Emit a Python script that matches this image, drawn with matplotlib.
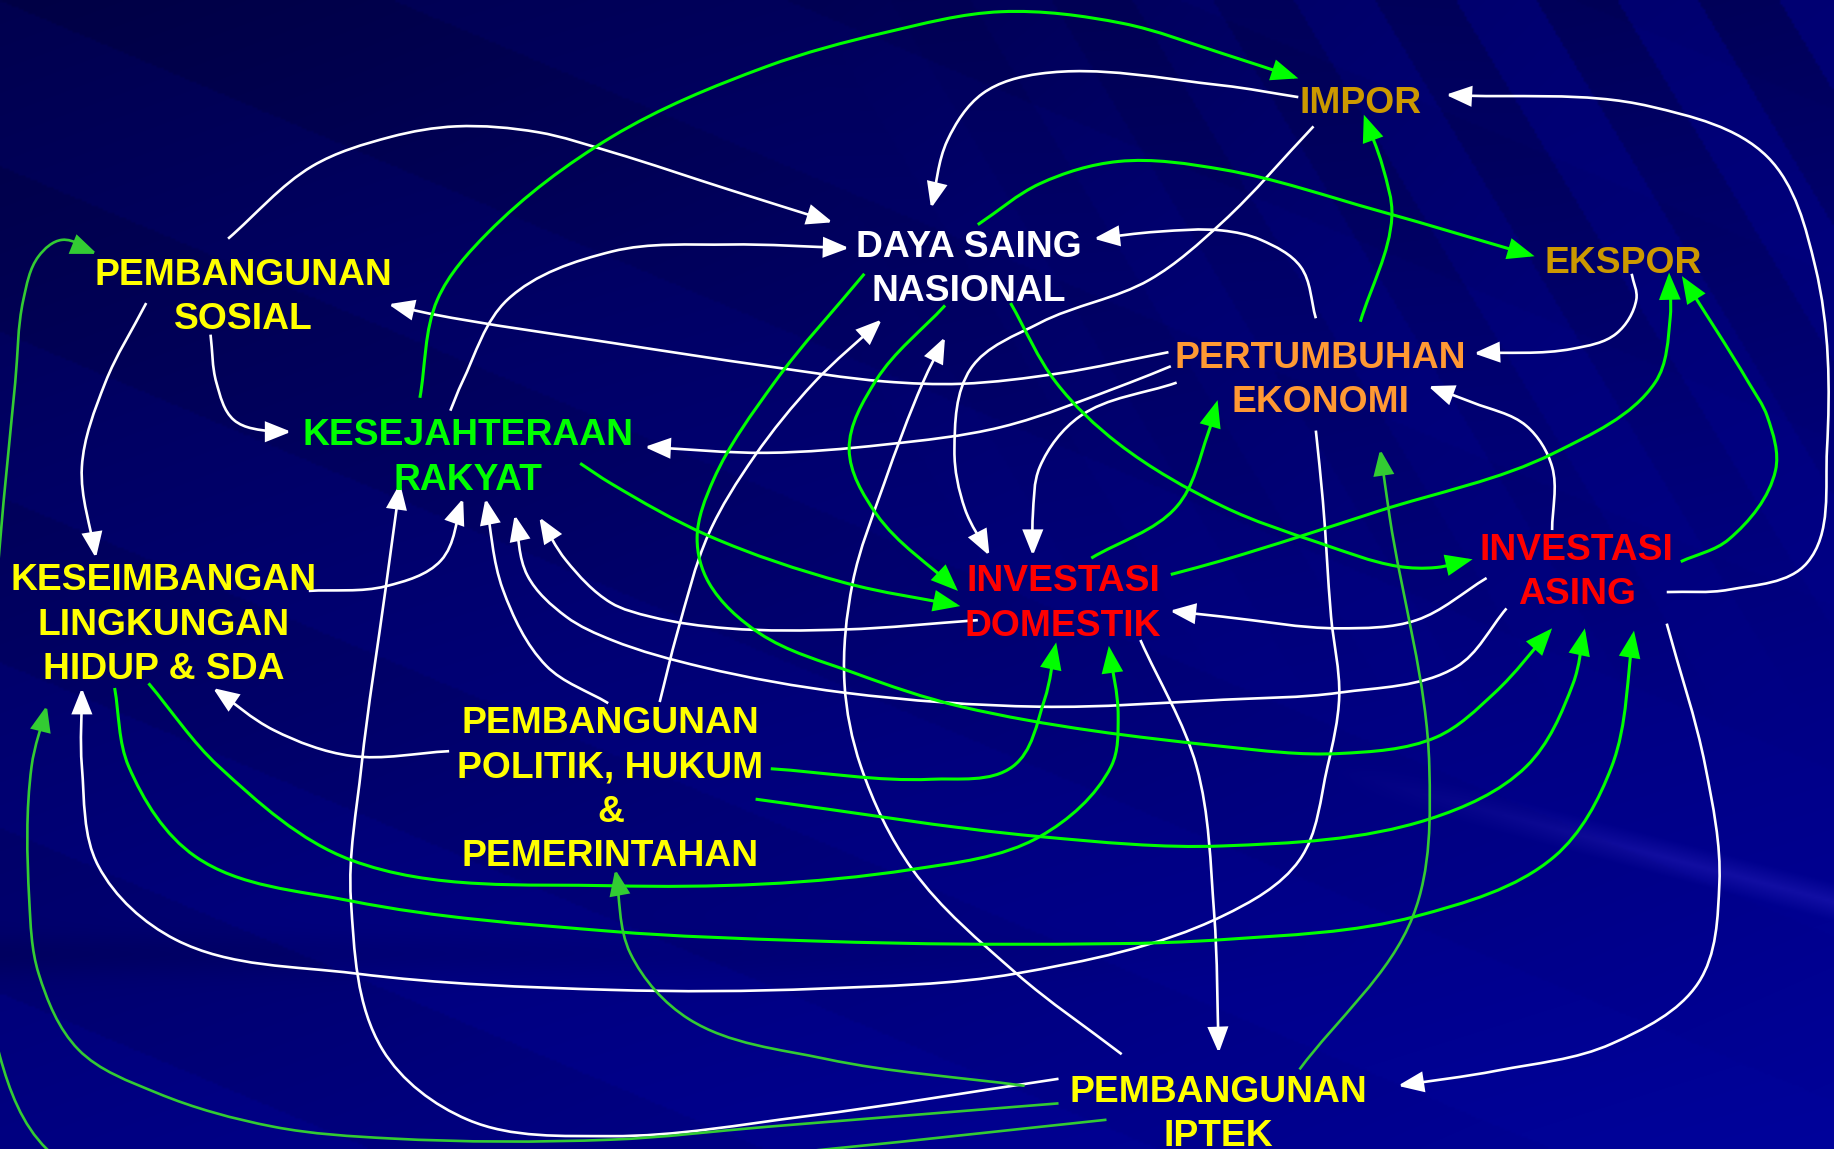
import numpy as np
import matplotlib
matplotlib.use("Agg")
import matplotlib.pyplot as plt
from matplotlib.path import Path
from matplotlib.patches import FancyArrowPatch, ArrowStyle

# ---------------- data ----------------
W, H = 1568, 982  # drawing coordinate space

node_lines = [
    ["IMPOR"],
    ["EKSPOR"],
    ["DAYA SAING", "NASIONAL"],
    ["PEMBANGUNAN", "SOSIAL"],
    ["KESEJAHTERAAN", "RAKYAT"],
    ["PERTUMBUHAN", "EKONOMI"],
    ["INVESTASI", "DOMESTIK"],
    ["INVESTASI", "ASING"],
    ["KESEIMBANGAN", "LINGKUNGAN", "HIDUP & SDA"],
    ["PEMBANGUNAN", "POLITIK, HUKUM", "&", "PEMERINTAHAN"],
    ["PEMBANGUNAN", "IPTEK"],
]
node_x = [1163, 1388, 828, 208, 400, 1129, 909, 1348, 140, 522, 1042]
node_y = [85, 222, 208, 232, 369, 303, 494, 467, 493, 615, 930]
node_colors = ["#CC9900", "#CC9900", "#FFFFFF", "#FFFF00", "#00FF00", "#FF9933",
               "#FF0000", "#FF0000", "#FFFF00", "#FFFF00", "#FFFF00"]
line_gap = 38

white_edges = [
    [(195, 204), (267, 142), (334, 117), (390, 108), (460, 113), (523, 130), (623, 162), (712, 190)],
    [(180, 286), (185, 327), (200, 359), (234, 369), (249, 369)],
    [(125, 259), (90, 327), (70, 399), (82, 477)],
    [(385, 351), (395, 327), (434, 256), (523, 215), (623, 209), (726, 212)],
    [(1110, 83), (1045, 73), (889, 63), (840, 80), (810, 120), (796, 178)],
    [(1125, 272), (1112, 228), (1078, 205), (1045, 197), (990, 198), (935, 204)],
    [(999, 301), (906, 319), (822, 328), (756, 326), (656, 313), (523, 293), (367, 268), (332, 260)],
    [(1001, 313), (966, 327), (856, 365), (756, 380), (656, 387), (551, 382)],
    [(1006, 327), (923, 356), (889, 399), (883, 441), (883, 475)],
    [(1123, 108), (1045, 190), (983, 239), (889, 276), (830, 315), (816, 385), (825, 435), (846, 475)],
    [(836, 530), (722, 538), (622, 537), (556, 527), (522, 515), (484, 479), (461, 442)],
    [(1288, 520), (1245, 570), (1145, 592), (1046, 598), (889, 604), (722, 592), (600, 570),
     (523, 547), (484, 527), (451, 492), (440, 440)],
    [(1271, 494), (1211, 530), (1145, 537), (1045, 527), (1000, 522)],
    [(1327, 453), (1327, 399), (1305, 364), (1259, 344), (1221, 330)],
    [(1425, 506), (1478, 504), (1545, 481), (1562, 384), (1552, 228), (1511, 134), (1411, 91), (1236, 81)],
    [(1425, 533), (1458, 655), (1470, 755), (1452, 840), (1378, 892), (1280, 915), (1195, 928)],
    [(975, 547), (1023, 655), (1038, 780), (1042, 900)],
    [(1395, 234), (1399, 256), (1382, 285), (1345, 298), (1260, 302)],
    [(564, 600), (579, 541), (606, 456), (645, 390), (696, 327), (754, 273)],
    [(959, 901), (869, 832), (780, 743), (736, 655), (722, 584), (729, 498), (756, 413), (789, 327), (808, 288)],
    [(520, 601), (467, 569), (430, 504), (415, 426)],
    [(264, 505), (330, 501), (377, 479), (396, 426)],
    [(905, 922), (689, 954), (522, 971), (400, 957), (327, 897), (300, 769), (309, 655), (330, 501), (342, 413)],
    [(1125, 368), (1131, 428), (1138, 527), (1145, 595), (1135, 655), (1111, 735), (1045, 783), (869, 832),
     (700, 845), (522, 846), (304, 832), (150, 803), (84, 740), (70, 655), (70, 588)],
    [(384, 642), (300, 646), (234, 624), (182, 588)],
]

green_edges = [
    [(359, 340), (374, 256), (417, 199), (523, 117), (655, 57), (756, 28), (856, 10), (960, 20), (1046, 46), (1110, 67)],
    [(836, 192), (889, 157), (956, 138), (1046, 145), (1178, 180), (1312, 219)],
    [(1163, 275), (1190, 185), (1182, 142), (1166, 98)],
    [(864, 259), (903, 327), (956, 379), (1046, 433), (1128, 464), (1195, 484), (1228, 485), (1259, 478)],
    [(739, 234), (662, 327), (610, 410), (596, 460), (606, 498), (649, 541), (730, 575), (822, 604),
     (1046, 638), (1145, 644), (1228, 630), (1278, 592), (1327, 537)],
    [(808, 261), (749, 325), (726, 384), (749, 439), (819, 505)],
    [(496, 396), (522, 413), (606, 458), (722, 498), (821, 518)],
    [(933, 477), (1006, 433), (1033, 370), (1041, 342)],
    [(1001, 491), (1045, 479), (1178, 437), (1329, 387), (1415, 327), (1428, 271), (1427, 233)],
    [(1437, 480), (1478, 461), (1518, 402), (1511, 356), (1495, 327), (1438, 236)],
    [(659, 657), (796, 666), (866, 655), (893, 598), (903, 549)],
    [(127, 584), (187, 655), (300, 735), (523, 757), (780, 743), (889, 715), (950, 655), (956, 612), (948, 552)],
    [(98, 588), (110, 655), (167, 732), (300, 770), (523, 796), (689, 804), (856, 807), (1046, 803),
     (1211, 783), (1329, 732), (1378, 655), (1397, 539)],
    [(646, 683), (889, 715), (1045, 723), (1222, 700), (1305, 655), (1345, 584), (1355, 537)],
]

dark_green_edges = [
    [(1111, 914), (1208, 783), (1222, 655), (1188, 441), (1180, 384)],
    [(876, 928), (706, 905), (589, 871), (539, 815), (526, 743)],
    [(905, 943), (656, 963), (523, 974), (334, 973), (234, 963), (134, 934), (67, 897), (33, 832),
     (25, 769), (27, 655), (40, 603)],
    [(946, 957), (709, 982), (400, 1010), (100, 1010), (40, 982), (0, 903), (-15, 680), (0, 464),
     (13, 327), (20, 256), (33, 219), (53, 205), (83, 217)],
]

# ---------------- helpers ----------------
def smooth_path(pts):
    P = np.asarray(pts, float)
    n = len(P)
    seg = np.diff(P, axis=0)
    L = np.hypot(seg[:, 0], seg[:, 1])
    U = seg / L[:, None]
    T = np.zeros_like(P)
    T[0] = U[0]
    T[-1] = U[-1]
    for i in range(1, n - 1):
        t = U[i - 1] + U[i]
        T[i] = t / np.hypot(*t)
    verts = [P[0]]
    codes = [Path.MOVETO]
    for i in range(n - 1):
        verts += [P[i] + T[i] * L[i] / 3, P[i + 1] - T[i + 1] * L[i] / 3, P[i + 1]]
        codes += [Path.CURVE4] * 3
    return Path(verts, codes)


# ---------------- figure ----------------
fig = plt.figure(figsize=(18.34, 11.49), dpi=100)
ax = fig.add_axes([0, 0, 1, 1])
ax.set_xlim(0, W)
ax.set_ylim(H, 0)
ax.axis("off")

# background
yy, xx = np.mgrid[0:H:2, 0:W:2].astype(float)
u = xx / W
v = yy / H
b = 74 + 50 * v + 30 * u
b += 5 * np.sign(np.sin((yy - 0.42 * xx) / 45.0)) * np.clip(1.2 - u, 0, 1)
mask = np.clip((u - 0.45) * 2.5, 0, 1) * np.clip(1 - v * 1.6, 0, 1)
b += 12 * mask * np.sign(np.sin((xx - 0.6 * yy) / 22.0))
# light streak lower right
x0s, y0s, x1s, y1s = 1130, 655, 1568, 770
dx, dy = x1s - x0s, y1s - y0s
tpar = ((xx - x0s) * dx + (yy - y0s) * dy) / (dx * dx + dy * dy)
dist = np.abs((xx - x0s) * dy - (yy - y0s) * dx) / np.hypot(dx, dy)
streak = np.clip(tpar * 1.5, 0, 1) * (tpar <= 1.05) * np.clip(1 - dist / 16, 0, 1)
# dark horizontal band bottom-left
band = np.exp(-((yy - 815) / 18.0) ** 2) * np.clip(1 - u * 1.3, 0, 1)
b -= 14 * band
b = np.clip(b, 0, 255)
r = 18 * streak
g = 14 * streak + np.clip(b - 140, 0, None) * 0.2
bb = b + 20 * streak
img = np.dstack([r, g, bb]) / 255.0
ax.imshow(np.clip(img, 0, 1), extent=[0, W, H, 0], interpolation="bilinear", zorder=0, aspect="auto")


def draw_edges(edges, color, lw):
    for pts in edges:
        path = smooth_path(pts)
        arr = FancyArrowPatch(path=path,
                              arrowstyle=ArrowStyle("-|>", head_length=1.55, head_width=0.62),
                              mutation_scale=10, color=color, lw=lw, zorder=2,
                              joinstyle="miter", capstyle="butt")
        ax.add_patch(arr)


draw_edges(white_edges, "#FFFFFF", 1.9)
draw_edges(green_edges, "#00FF00", 2.2)
draw_edges(dark_green_edges, "#33CC33", 1.9)

for lines, x, y, c in zip(node_lines, node_x, node_y, node_colors):
    for k, s in enumerate(lines):
        ax.text(x, y + k * line_gap + 11.5, s, color=c, fontsize=26.8, fontweight="bold",
                family=["Liberation Sans", "DejaVu Sans"], ha="center", va="baseline", zorder=3)

fig.savefig("out.png", dpi=100)
